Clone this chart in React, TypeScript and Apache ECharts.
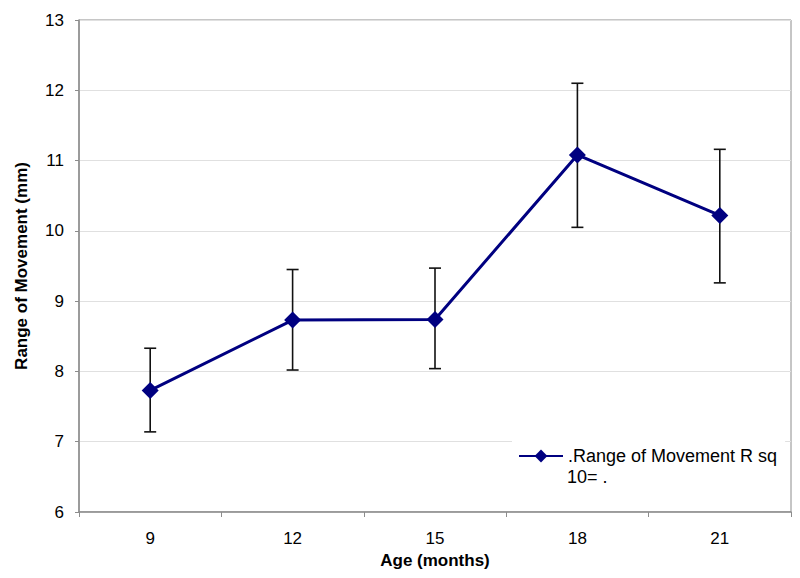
import React, { useEffect, useRef } from "react";
import * as echarts from "echarts";

const categories = ["9", "12", "15", "18", "21"];
const meanValues = [7.73, 8.73, 8.74, 11.08, 10.22];
const lowerValues = [7.14, 8.02, 8.04, 10.05, 9.26];
const upperValues = [8.33, 9.45, 9.47, 12.1, 11.16];
const yTicks = { min: 6, max: 13, interval: 1 };
const seriesName = ".Range of Movement R sq";
const legendSecondLine = "10= .";

const FONT = "'Liberation Sans', Arial, sans-serif";

export default function App() {
  const ref = useRef<HTMLDivElement>(null);
  useEffect(() => {
    if (!ref.current) return;
    const chart = echarts.init(ref.current, undefined, { renderer: "svg" });
    const errData = categories.map((_, i) => [i, lowerValues[i], upperValues[i]]);
    chart.setOption({
      animation: false,
      backgroundColor: "#fff",
      textStyle: { fontFamily: FONT },
      grid: {
        left: 79,
        right: 9,
        top: 20,
        bottom: 66,
        show: true,
        borderColor: "#8c8c8c",
        borderWidth: 1,
        backgroundColor: "transparent",
      },
      xAxis: {
        type: "category",
        data: categories,
        boundaryGap: true,
        name: "Age (months)",
        nameLocation: "middle",
        nameGap: 40,
        nameTextStyle: { fontFamily: FONT, fontWeight: "bold", fontSize: 17, color: "#000" },
        axisLine: { lineStyle: { color: "#8c8c8c", width: 1.5 } },
        axisTick: { show: true, inside: false, length: 5, alignWithLabel: false, interval: 0, lineStyle: { color: "#8c8c8c" } },
        axisLabel: { fontFamily: FONT, fontSize: 17, color: "#000", margin: 18 },
        splitLine: { show: false },
      },
      yAxis: {
        type: "value",
        min: yTicks.min,
        max: yTicks.max,
        interval: yTicks.interval,
        name: "Range of Movement (mm)",
        nameLocation: "middle",
        nameGap: 49,
        nameTextStyle: { fontFamily: FONT, fontWeight: "bold", fontSize: 17, color: "#000" },
        axisLine: { show: true, lineStyle: { color: "#8c8c8c", width: 1.5 } },
        axisTick: { show: true, inside: false, length: 4, lineStyle: { color: "#8c8c8c" } },
        axisLabel: { fontFamily: FONT, fontSize: 17, color: "#000", margin: 15 },
        splitLine: { show: true, lineStyle: { color: "#e0e0e0", width: 1 } },
      },
      legend: {
        data: [seriesName],
        left: 512,
        top: 441,
        orient: "vertical",
        backgroundColor: "#fff",
        padding: [6, 8, 46, 6],
        itemWidth: 44,
        itemHeight: 16,
        itemGap: 5,
        textStyle: { fontFamily: FONT, fontSize: 18, color: "#000" },
        z: 5,
      },
      graphic: [
        {
          type: "text",
          left: 567,
          top: 468,
          z: 100,
          style: { text: legendSecondLine, fontFamily: FONT, fontSize: 18, fill: "#000" },
        },
      ],
      series: [
        {
          type: "custom",
          name: "err",
          z: 2,
          data: errData,
          renderItem: (params: any, api: any) => {
            const i = api.value(0);
            const lo = api.coord([i, api.value(1)]);
            const hi = api.coord([i, api.value(2)]);
            const hw = 6;
            const style = { stroke: "#111", lineWidth: 1.6 };
            return {
              type: "group",
              children: [
                { type: "line", shape: { x1: lo[0], y1: lo[1], x2: hi[0], y2: hi[1] }, style },
                { type: "line", shape: { x1: hi[0] - hw, y1: hi[1], x2: hi[0] + hw, y2: hi[1] }, style },
                { type: "line", shape: { x1: lo[0] - hw, y1: lo[1], x2: lo[0] + hw, y2: lo[1] }, style },
              ],
            };
          },
        },
        {
          type: "line",
          name: seriesName,
          z: 3,
          data: meanValues,
          symbol: "diamond",
          symbolSize: 17,
          lineStyle: { color: "#000080", width: 3 },
          itemStyle: { color: "#000080" },
        },
      ],
    });
    return () => chart.dispose();
  }, []);
  return (
    <div
      ref={ref}
      style={{ position: "absolute", left: 0, top: 0, width: 800, height: 578 }}
    />
  );
}
